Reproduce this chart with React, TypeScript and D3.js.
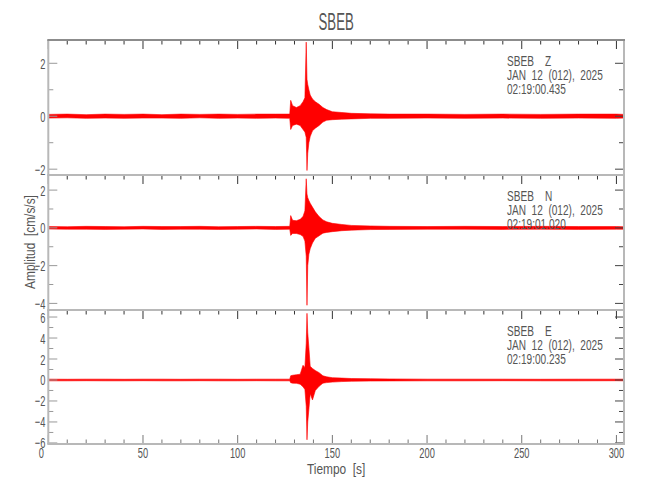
import React from 'react';
import * as d3 from 'd3';

// seismogram envelopes (cm/s/s), one sample per time knot
const times = [0, 10, 20, 30, 40, 50, 60, 70, 80, 90, 100, 110, 120, 127.5, 128, 129, 131, 133, 134.5, 135.5, 136.2, 136.6, 137.0, 137.6, 138.3, 139.5, 141, 143, 145, 147, 150, 155, 160, 170, 180, 200, 220, 240, 260, 280, 300, 304];

const zUpper = [0.07, 0.08, 0.06, 0.08, 0.07, 0.08, 0.06, 0.08, 0.07, 0.08, 0.07, 0.08, 0.08, 0.08, 0.6, 0.4, 0.33, 0.4, 0.55, 0.7, 2.8, 1.4, 1.2, 1.0, 0.8, 0.65, 0.55, 0.45, 0.33, 0.25, 0.17, 0.14, 0.11, 0.09, 0.08, 0.08, 0.07, 0.08, 0.07, 0.08, 0.08, 0.07];
const zLower = [-0.07, -0.06, -0.08, -0.07, -0.08, -0.07, -0.07, -0.08, -0.06, -0.08, -0.07, -0.08, -0.07, -0.08, -0.5, -0.35, -0.3, -0.35, -0.5, -0.6, -0.8, -2.05, -1.4, -1.0, -0.77, -0.55, -0.45, -0.35, -0.22, -0.15, -0.13, -0.11, -0.1, -0.08, -0.08, -0.07, -0.08, -0.07, -0.08, -0.07, -0.08, -0.07];

const nUpper = [0.07, 0.06, 0.08, 0.07, 0.06, 0.08, 0.07, 0.07, 0.08, 0.06, 0.07, 0.08, 0.07, 0.08, 0.65, 0.4, 0.38, 0.45, 0.6, 0.9, 2.6, 1.8, 1.6, 1.45, 1.3, 1.1, 0.85, 0.6, 0.42, 0.32, 0.24, 0.18, 0.13, 0.1, 0.08, 0.07, 0.08, 0.07, 0.08, 0.07, 0.07, 0.06];
const nLower = [-0.06, -0.07, -0.07, -0.08, -0.07, -0.06, -0.08, -0.07, -0.07, -0.08, -0.07, -0.06, -0.08, -0.07, -0.4, -0.3, -0.3, -0.35, -0.45, -0.7, -1.5, -4.1, -2.0, -1.4, -1.1, -0.8, -0.55, -0.42, -0.28, -0.24, -0.2, -0.15, -0.12, -0.09, -0.08, -0.07, -0.07, -0.08, -0.07, -0.08, -0.07, -0.07];

const eUpper = [0.08, 0.07, 0.08, 0.08, 0.07, 0.08, 0.08, 0.07, 0.08, 0.08, 0.07, 0.08, 0.08, 0.08, 0.4, 0.45, 0.5, 0.55, 1.4, 1.2, 3.5, 6.35, 4.5, 3.1, 1.3, 1.1, 0.9, 0.7, 0.4, 0.3, 0.22, 0.18, 0.14, 0.12, 0.1, 0.08, 0.08, 0.08, 0.07, 0.08, 0.08, 0.08];
const eLower = [-0.08, -0.08, -0.07, -0.08, -0.08, -0.07, -0.08, -0.08, -0.07, -0.08, -0.08, -0.07, -0.08, -0.08, -0.26, -0.3, -0.32, -0.4, -0.65, -0.9, -2.5, -5.7, -4.0, -2.8, -1.3, -1.9, -1.0, -0.6, -0.3, -0.25, -0.2, -0.15, -0.12, -0.1, -0.09, -0.08, -0.08, -0.07, -0.08, -0.08, -0.07, -0.08];

const station = 'SBEB';
const channels = ['Z', 'N', 'E'];
const dateLabel = 'JAN  12  (012),  2025';
const startTimes = ['02:19:00.435', '02:19:01.020', '02:19:00.235'];
const yDomains: [number, number][] = [[-2.22, 2.88], [-4.35, 2.8], [-6.1, 6.67]];
const yMajorTicks = [[-2, 0, 2], [-4, -2, 0, 2], [-6, -4, -2, 0, 2, 4, 6]];
const yMinorTicks = [[-1, 1], [-3, -1, 1], [-5, -3, -1, 1, 3, 5]];
const xMajorTicks = [0, 50, 100, 150, 200, 250, 300];
const xMinorTicks = d3.range(0, 301, 10).filter((v) => v % 50 !== 0);
const xDomain: [number, number] = [0, 304];

const envelopes = [
  { upper: zUpper, lower: zLower },
  { upper: nUpper, lower: nLower },
  { upper: eUpper, lower: eLower },
];

const W = 650;
const H = 500;
const left = 48.3;
const right = 624;
const panelTops = [40, 175, 310];
const panelBottoms = [175, 310, 444];
const font = '"Liberation Sans", Arial, sans-serif';
const textColor = '#555';
const frameColor = '#b8b8b8';

const x = d3.scaleLinear().domain(xDomain).range([left, right]);

// narrow text: Liberation Sans squeezed horizontally
const Txt: React.FC<{ x: number; y: number; size: number; sx: number; anchor?: string; rotate?: number; children: React.ReactNode }> = ({ x, y, size, sx, anchor = 'start', rotate = 0, children }) => (
  <g transform={`translate(${x},${y}) rotate(${rotate}) scale(${sx},1)`}>
    <text x={0} y={0} fontFamily={font} fontSize={size} fill={textColor} textAnchor={anchor} style={{ whiteSpace: 'pre' }}>
      {children}
    </text>
  </g>
);

const Panel: React.FC<{ i: number }> = ({ i }) => {
  const top = panelTops[i];
  const bottom = panelBottoms[i];
  const y = d3.scaleLinear().domain(yDomains[i]).range([bottom, top]);
  const env = envelopes[i];
  const pts = times.map((t, k) => ({ t, hi: env.upper[k], lo: env.lower[k] }));
  const area = d3.area<{ t: number; hi: number; lo: number }>()
    .x((d) => x(d.t))
    .y0((d) => y(d.lo))
    .y1((d) => y(d.hi));
  const clipId = `clip-${i}`;
  return (
    <g>
      <defs>
        <clipPath id={clipId}>
          <rect x={left} y={top} width={right - left} height={bottom - top} />
        </clipPath>
      </defs>
      <g clipPath={`url(#${clipId})`}>
        <path d={area(pts) || ''} fill="#ff0000" stroke="#ff0000" strokeWidth={0.6} strokeLinejoin="round" />
      </g>
      {/* top ticks */}
      {xMajorTicks.map((v) => (
        <line key={`tM${v}`} x1={x(v)} x2={x(v)} y1={top} y2={top + 9} stroke="#333" strokeWidth={1} />
      ))}
      {xMinorTicks.map((v) => (
        <line key={`tm${v}`} x1={x(v)} x2={x(v)} y1={top} y2={top + 4.5} stroke="#333" strokeWidth={1} />
      ))}
      {/* left and right ticks */}
      {yMajorTicks[i].map((v) => (
        <g key={`yM${v}`}>
          <line x1={left} x2={left + 9} y1={y(v)} y2={y(v)} stroke="#999" strokeWidth={1} />
          <line x1={right - 9} x2={right} y1={y(v)} y2={y(v)} stroke="#444" strokeWidth={1} />
          <Txt x={left - 3} y={y(v) + 5.5} size={15} sx={0.62} anchor="end">
            {v < 0 ? `\u2212${-v}` : `${v}`}
          </Txt>
        </g>
      ))}
      {yMinorTicks[i].map((v) => (
        <g key={`ym${v}`}>
          <line x1={left} x2={left + 5} y1={y(v)} y2={y(v)} stroke="#999" strokeWidth={1} />
          <line x1={right - 5} x2={right} y1={y(v)} y2={y(v)} stroke="#444" strokeWidth={1} />
        </g>
      ))}
      {/* channel header */}
      <Txt x={507} y={top + 26} size={14} sx={0.72}>{station}</Txt>
      <Txt x={545} y={top + 26} size={14} sx={0.72}>{channels[i]}</Txt>
      <Txt x={507} y={top + 40} size={14} sx={0.72}>{dateLabel}</Txt>
      <Txt x={507} y={top + 54} size={14} sx={0.72}>{startTimes[i]}</Txt>
    </g>
  );
};

export default function App() {
  const bottom = panelBottoms[2];
  return (
    <svg width={W} height={H} style={{ position: 'absolute', left: 0, top: 0, background: '#fff' }}>
      <rect width={W} height={H} fill="#fff" />
      {channels.map((_, i) => (
        <Panel key={i} i={i} />
      ))}
      {/* bottom ticks */}
      {xMajorTicks.map((v) => (
        <line key={`bM${v}`} x1={x(v)} x2={x(v)} y1={bottom} y2={bottom - 9} stroke="#777" strokeWidth={1} />
      ))}
      {xMinorTicks.map((v) => (
        <line key={`bm${v}`} x1={x(v)} x2={x(v)} y1={bottom} y2={bottom - 4.5} stroke="#777" strokeWidth={1} />
      ))}
      {/* frame */}
      <line x1={left} x2={left} y1={panelTops[0]} y2={bottom} stroke={frameColor} strokeWidth={2} />
      <line x1={right} x2={right} y1={panelTops[0]} y2={bottom} stroke={frameColor} strokeWidth={2} />
      <line x1={left - 1} x2={right + 1} y1={panelTops[0]} y2={panelTops[0]} stroke="#8c8c8c" strokeWidth={2} />
      {panelBottoms.map((b) => (
        <line key={b} x1={left - 1} x2={right + 1} y1={b} y2={b} stroke={frameColor} strokeWidth={2} />
      ))}
      {/* x tick labels */}
      {xMajorTicks.map((v) => (
        <Txt key={`xl${v}`} x={v === 0 ? x(v) - 7 : x(v)} y={458} size={15} sx={0.62} anchor="middle">
          {`${v}`}
        </Txt>
      ))}
      <Txt x={(left + right) / 2} y={474} size={14} sx={0.85} anchor="middle">{'Tiempo  [s]'}</Txt>
      <Txt x={35} y={242} size={14} sx={0.85} anchor="middle" rotate={-90}>{'Amplitud  [cm/s/s]'}</Txt>
      <Txt x={(left + right) / 2} y={30} size={24} sx={0.55} anchor="middle">{station}</Txt>
    </svg>
  );
}
